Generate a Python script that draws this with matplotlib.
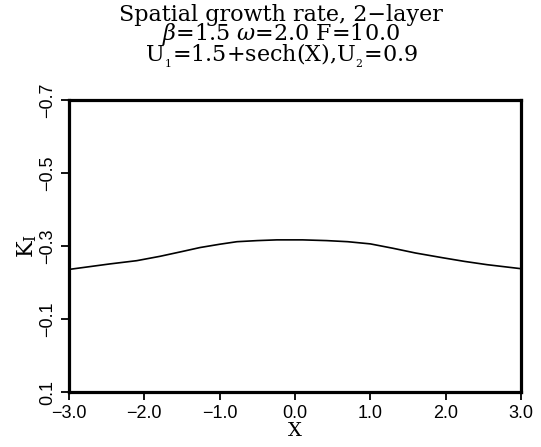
import numpy as np
import matplotlib
matplotlib.use("Agg")
from matplotlib import pyplot as plt

plt.rcParams['mathtext.fontset'] = 'dejavuserif'
plt.rcParams['axes.unicode_minus'] = True

# growth rate K_I along X
x = [-3.0, -2.46, -2.1, -1.79, -1.5, -1.26, -1.0, -0.77, -0.5, -0.24, 0.1,
     0.42, 0.7, 1.0, 1.30, 1.6, 1.96, 2.25, 2.55, 3.0]
ki = [-0.236, -0.251, -0.260, -0.272, -0.285, -0.296, -0.305, -0.312, -0.315, -0.317, -0.317,
      -0.315, -0.312, -0.306, -0.294, -0.281, -0.268, -0.258, -0.249, -0.238]
xticks = [-3.0, -2.0, -1.0, 0.0, 1.0, 2.0, 3.0]
yticks = [0.1, -0.1, -0.3, -0.5, -0.7]


def fmt(v):
    return ('%.1f' % v).replace('-', '\u2212')


fig = plt.figure(figsize=(5.41, 4.47), dpi=100)
ax = fig.add_axes([0.1275, 0.123, 0.8355, 0.653])
ax.plot(x, ki, color='black', lw=1.2)

ax.set_xlim(-3.0, 3.0)
ax.set_ylim(0.1, -0.7)
ax.set_xticks(xticks)
ax.set_xticklabels([fmt(v) for v in xticks], family='Liberation Sans', fontsize=13)
ax.set_yticks(yticks)
ax.set_yticklabels([fmt(v) for v in yticks], family='Liberation Sans', fontsize=13,
                   rotation=90, va='center')
ax.tick_params(direction='out', length=6, width=1.3, pad=3)
for s in ax.spines.values():
    s.set_linewidth(2.3)

ax.set_xlabel('X', family='DejaVu Serif', fontsize=14, labelpad=0)
ax.set_ylabel(r'K$_\mathrm{I}$', family='DejaVu Serif', fontsize=16, labelpad=0)

title = ('Spatial growth rate, 2\u2212layer\n'
         r'$\beta$=1.5 $\omega$=2.0 F=10.0' '\n'
         r'U$_{_1}$=1.5+sech(X),U$_{_2}$=0.9')
fig.text(0.52, 0.992, title, ha='center', va='top', linespacing=0.74,
         family='DejaVu Serif', fontsize=16)

fig.savefig('out.png', dpi=100)
